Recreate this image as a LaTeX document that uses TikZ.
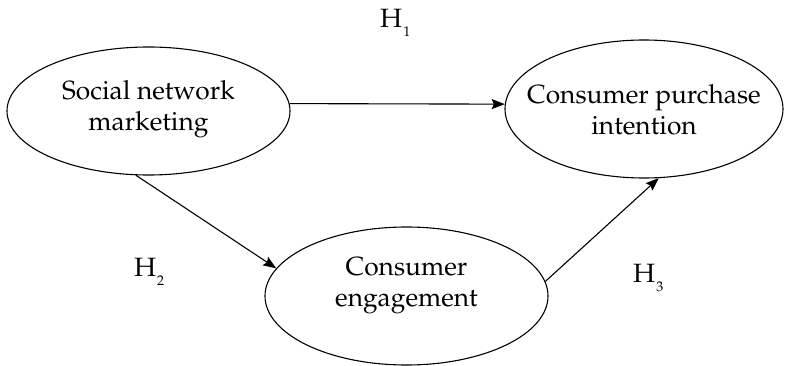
\documentclass[tikz,border=0pt]{standalone}
\usepackage[T1]{fontenc}
\usepackage{mathpazo}
\usetikzlibrary{shapes.geometric,arrows.meta}
\newcommand{\hsub}[1]{H\kern1pt\raisebox{-9pt}{\fontsize{14}{14}\selectfont #1}}
\begin{document}
\begin{tikzpicture}[x=1pt,y=-1pt,
  construct/.style={ellipse, draw, line width=1.1pt, inner sep=0pt},
  ctext/.style={align=center, inner sep=0pt, font=\fontsize{26.3}{31}\selectfont},
  link/.style={line width=1.1pt, -{Stealth[length=13pt,width=10pt,inset=2pt]}},
  hyp/.style={anchor=base west, inner sep=0pt, font=\fontsize{26.5}{30}\selectfont}]
\useasboundingbox (0,0) rectangle (785,366);
\node[construct, minimum width=283pt, minimum height=128pt] (smm) at (148.5,111) {};
\node[construct, minimum width=278pt, minimum height=138pt] (cpi) at (644,109) {};
\node[construct, minimum width=283pt, minimum height=138pt] (ce) at (406.5,296) {};
\node[ctext] (smmtext) at (148.5,109) {Social network\\marketing};
\node[ctext] (cpitext) at (644,109.5) {Consumer purchase\\intention};
\node[ctext] (cetext) at (406.5,286) {Consumer\\engagement};
\draw[link] (smm.3) -- (cpi.178);
\draw[link] (smm.259) -- (ce.168);
\draw[link] (ce.6) -- (cpi.282);
\node[hyp] (h1) at (380,28) {\hsub{1}};
\node[hyp] (h2) at (134,277) {\hsub{2}};
\node[hyp] (h3) at (633,283) {\hsub{3}};
\end{tikzpicture}
\end{document}
